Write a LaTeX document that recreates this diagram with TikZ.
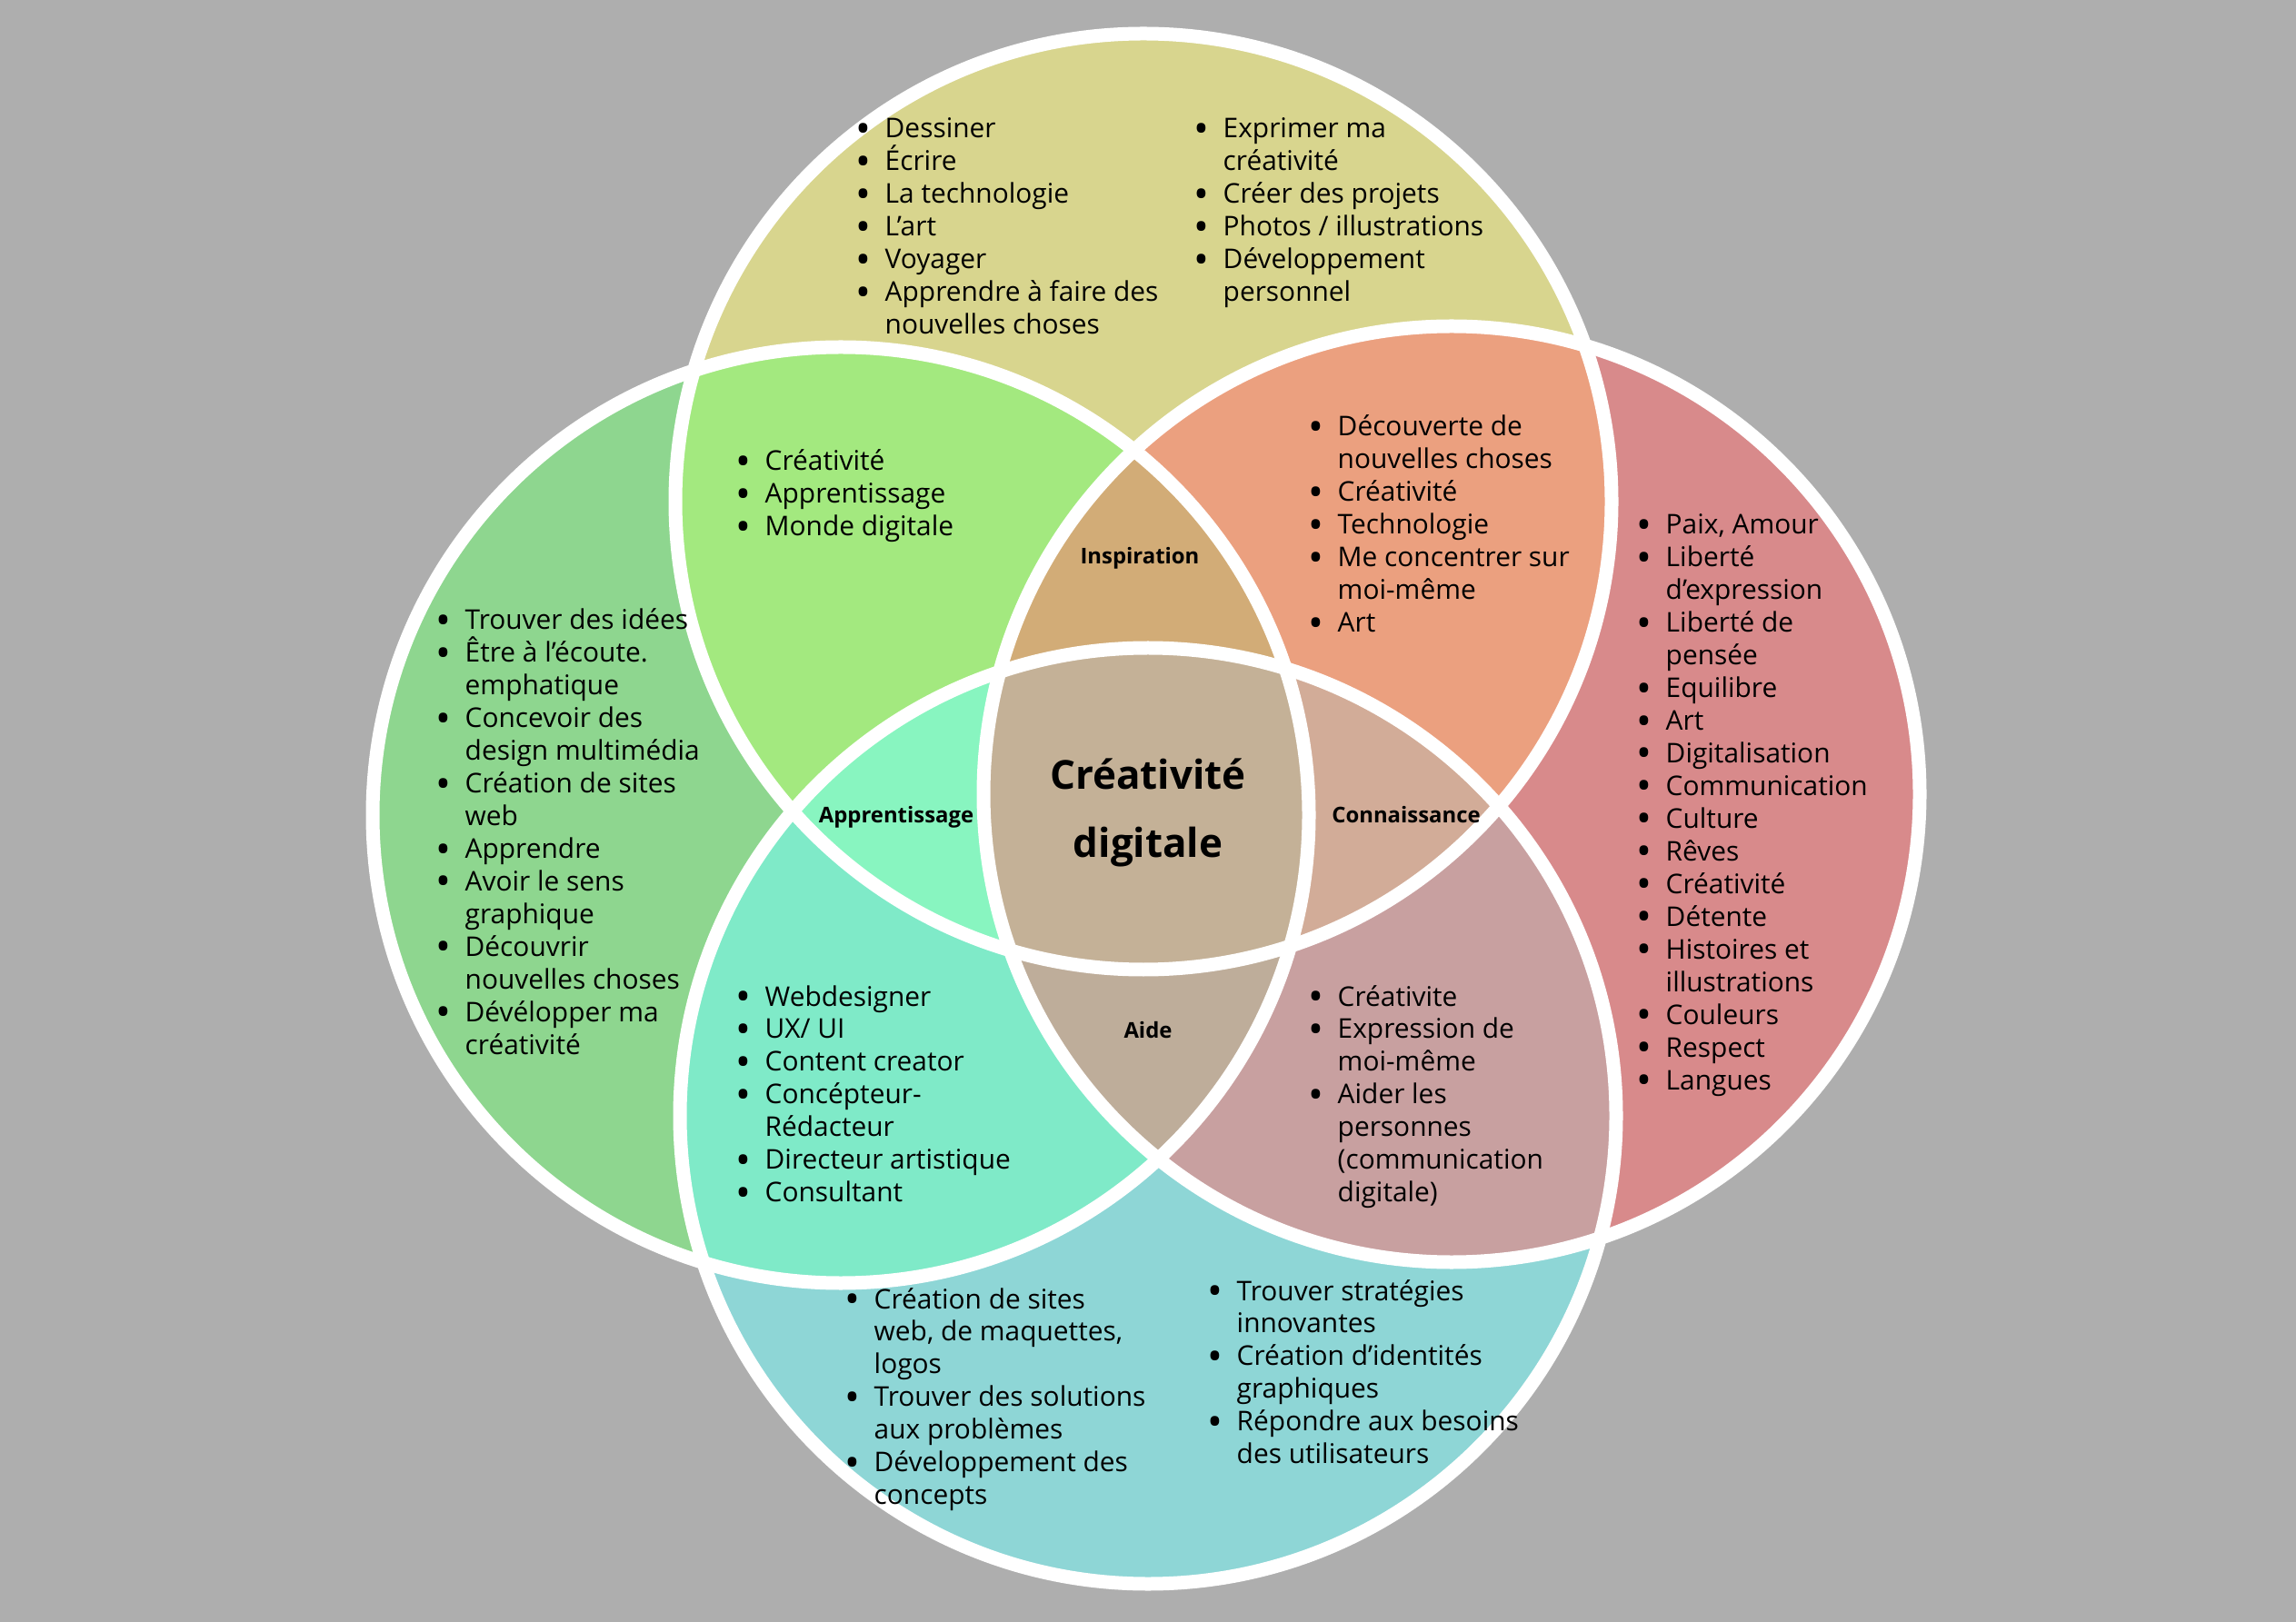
\documentclass[tikz,border=0pt]{standalone}
\usepackage{fontspec}
\setmainfont{Open Sans}
\usepackage{xcolor}
\usepackage{tikz}
\usetikzlibrary{positioning}

\definecolor{bggrey}{HTML}{AEAEAE}
\definecolor{topc}{HTML}{D8D58E}
\definecolor{leftc}{HTML}{8ED68F}
\definecolor{rightc}{HTML}{D88A8B}
\definecolor{botc}{HTML}{8ED6D6}
\definecolor{tlc}{HTML}{A3E97F}
\definecolor{trc}{HTML}{EBA07F}
\definecolor{lbc}{HTML}{7FEAC8}
\definecolor{rbc}{HTML}{C8A0A0}
\definecolor{inspc}{HTML}{D2AC77}
\definecolor{apprc}{HTML}{88F5C0}
\definecolor{connc}{HTML}{D2AC98}
\definecolor{aidec}{HTML}{BEAD9A}
\definecolor{midc}{HTML}{C4B197}

\newcommand{\lstfont}{\fontsize{8.5pt}{10.24pt}\selectfont}
\newcommand{\lblfont}{\fontsize{6.8pt}{8pt}\selectfont\bfseries}
\newcommand{\midfont}{\fontsize{12.5pt}{21.3pt}\selectfont\bfseries}
\newcommand{\bul}{\llap{\raisebox{-0.17em}{\scalebox{1.5}{\textbullet}}\hspace{0.15cm}}}
\newcommand{\lst}[1]{\vtop{\halign{##\hfil\cr#1\crcr}}}
\newcommand{\rad}{5.15}

\begin{document}
\begin{tikzpicture}[
  ring/.style={draw=white, line width=0.15cm},
  lst/.style={anchor=base west, inner sep=0pt, font=\lstfont},
  lbl/.style={anchor=base, inner sep=0pt, font=\lblfont}]
\fill[bggrey] (0,0) rectangle (25.26,-17.85);
\useasboundingbox (0,0) rectangle (25.26,-17.85);

\coordinate (ct) at (12.58,-5.52);
\coordinate (cl) at (9.25,-8.97);
\coordinate (cr) at (15.97,-8.74);
\coordinate (cb) at (12.63,-12.28);

% single circles
\fill[topc] (ct) circle (\rad);
\fill[leftc] (cl) circle (\rad);
\fill[rightc] (cr) circle (\rad);
\fill[botc] (cb) circle (\rad);

% pairs
\begin{scope}
  \clip (ct) circle (\rad);
  \fill[tlc] (cl) circle (\rad);
  \fill[trc] (cr) circle (\rad);
\end{scope}
\begin{scope}
  \clip (cb) circle (\rad);
  \fill[lbc] (cl) circle (\rad);
  \fill[rbc] (cr) circle (\rad);
\end{scope}

% triples
\begin{scope}
  \clip (ct) circle (\rad);
  \clip (cl) circle (\rad);
  \fill[inspc] (cr) circle (\rad);
  \fill[apprc] (cb) circle (\rad);
\end{scope}
\begin{scope}
  \clip (ct) circle (\rad);
  \clip (cr) circle (\rad);
  \fill[connc] (cb) circle (\rad);
\end{scope}
\begin{scope}
  \clip (cl) circle (\rad);
  \clip (cr) circle (\rad);
  \fill[aidec] (cb) circle (\rad);
\end{scope}

% all four
\begin{scope}
  \clip (ct) circle (\rad);
  \clip (cl) circle (\rad);
  \clip (cr) circle (\rad);
  \fill[midc] (cb) circle (\rad);
\end{scope}

\foreach \c in {ct,cl,cr,cb}
  \draw[ring] (\c) circle (\rad);

\node[lst] (tp1) at (9.73,-1.52) {\lst{\bul Dessiner\cr \bul Écrire\cr
  \bul La technologie\cr \bul L’art\cr \bul Voyager\cr
  \bul Apprendre à faire des\cr nouvelles choses}};
\node[lst] (tp2) at (13.45,-1.52) {\lst{\bul Exprimer ma\cr créativité\cr
  \bul Créer des projets\cr \bul Photos / illustrations\cr \bul Développement\cr
  personnel}};
\node[lst] (tl) at (8.41,-5.18) {\lst{\bul Créativité\cr \bul Apprentissage\cr
  \bul Monde digitale}};
\node[lst] (tr) at (14.71,-4.80) {\lst{\bul Découverte de\cr nouvelles choses\cr
  \bul Créativité\cr \bul Technologie\cr \bul Me concentrer sur\cr moi-même\cr
  \bul Art}};
\node[lst] (lf) at (5.11,-6.93) {\lst{\bul Trouver des idées\cr
  \bul Être à l’écoute.\cr emphatique\cr \bul Concevoir des\cr design multimédia\cr
  \bul Création de sites\cr web\cr \bul Apprendre\cr \bul Avoir le sens\cr
  graphique\cr \bul Découvrir\cr nouvelles choses\cr \bul Dévélopper ma\cr
  créativité}};
\node[lst] (rt) at (18.32,-5.88) {\lst{\bul Paix, Amour\cr \bul Liberté\cr
  d’expression\cr \bul Liberté de\cr pensée\cr \bul Equilibre\cr \bul Art\cr
  \bul Digitalisation\cr \bul Communication\cr \bul Culture\cr \bul Rêves\cr
  \bul Créativité\cr \bul Détente\cr \bul Histoires et\cr illustrations\cr
  \bul Couleurs\cr \bul Respect\cr \bul Langues}};
\node[lst] (lb) at (8.41,-11.07) {\lst{\bul Webdesigner\cr \bul UX/ UI\cr
  \bul Content creator\cr \bul Concépteur-\cr Rédacteur\cr
  \bul Directeur artistique\cr \bul Consultant}};
\node[lst] (rb) at (14.71,-11.07) {\lst{\bul Créativite\cr \bul Expression de\cr
  moi-même\cr \bul Aider les\cr personnes\cr (communication\cr digitale)}};
\node[lst] (bt1) at (9.61,-14.40) {\lst{\bul Création de sites\cr
  web, de maquettes,\cr logos\cr \bul Trouver des solutions\cr aux problèmes\cr
  \bul Développement des\cr concepts}};
\node[lst] (bt2) at (13.60,-14.31) {\lst{\bul Trouver stratégies\cr innovantes\cr
  \bul Création d’identités\cr graphiques\cr \bul Répondre aux besoins\cr
  des utilisateurs}};

\node[lbl] (insp) at (12.54,-6.21) {Inspiration};
\node[lbl] (appr) at (9.86,-9.05) {Apprentissage};
\node[lbl] (conn) at (15.47,-9.06) {Connaissance};
\node[lbl] (aide) at (12.63,-11.42) {Aide};
\node[anchor=base, inner sep=0pt, font=\midfont] (mid) at (12.63,-8.69)
  {\vtop{\halign{\hfil#\hfil\cr Créativité\cr digitale\crcr}}};
\end{tikzpicture}
\end{document}
